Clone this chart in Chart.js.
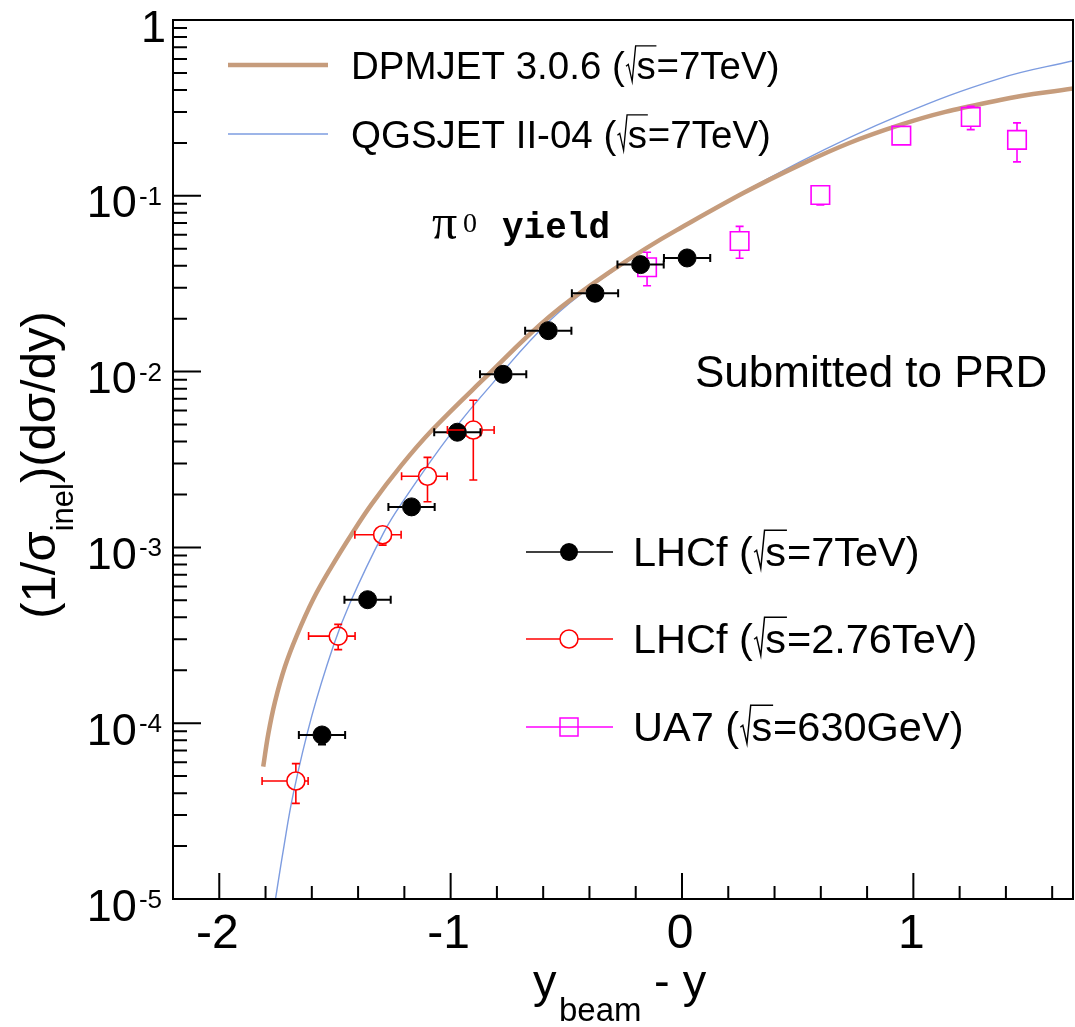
<!DOCTYPE html>
<html>
<head>
<meta charset="utf-8">
<script src="https://cdn.jsdelivr.net/npm/chart.js@4.4.1/dist/chart.umd.min.js"></script>
<style>
  html, body { margin: 0; padding: 0; background: #ffffff; }
  canvas { display: block; }
</style>
</head>
<body>
<canvas id="c" width="1075" height="1027"></canvas>
<script>
// ---- LHCf sqrt(s)=7 TeV (filled circles) ----
const lhcf7X      = [-1.556, -1.359, -1.169, -0.971, -0.773, -0.578, -0.376, -0.179, 0.022];
const lhcf7Y      = [8.57e-5, 5.04e-4, 1.70e-3, 4.52e-3, 9.65e-3, 1.71e-2, 2.79e-2, 4.06e-2, 4.43e-2];
const lhcf7XErrLo = [0.10, 0.10, 0.10, 0.10, 0.10, 0.10, 0.10, 0.10, 0.10];
const lhcf7XErrHi = [0.10, 0.10, 0.10, 0.10, 0.10, 0.10, 0.10, 0.10, 0.10];
const lhcf7YErrLo = [1.0e-5, 3.0e-5, 1.0e-4, 2.7e-4, 5.8e-4, 1.0e-3, 1.7e-3, 2.4e-3, 2.7e-3];
const lhcf7YErrHi = [0.9e-5, 3.0e-5, 1.0e-4, 2.7e-4, 5.8e-4, 1.0e-3, 1.7e-3, 2.4e-3, 2.7e-3];

// ---- LHCf sqrt(s)=2.76 TeV (open circles) ----
const lhcf276X      = [-1.669, -1.486, -1.294, -1.100, -0.902];
const lhcf276Y      = [4.69e-5, 3.13e-4, 1.18e-3, 2.54e-3, 4.65e-3];
const lhcf276XErrLo = [0.146, 0.128, 0.120, 0.112, 0.112];
const lhcf276XErrHi = [0.053, 0.073, 0.080, 0.085, 0.090];
const lhcf276YErrLo = [1.19e-5, 0.51e-4, 1.5e-4, 0.72e-3, 2.23e-3];
const lhcf276YErrHi = [1.20e-5, 0.52e-4, 1.4e-4, 0.71e-3, 2.22e-3];

// ---- UA7 sqrt(s)=630 GeV (open squares) ----
const ua7X      = [-0.151, 0.249, 0.598, 0.948, 1.248, 1.448];
const ua7Y      = [3.92e-2, 5.53e-2, 0.101, 0.220, 0.281, 0.208];
const ua7YErrLo = [0.84e-2, 1.12e-2, 0.0124, 0.015, 0.043, 0.052];
const ua7YErrHi = [0.85e-2, 1.17e-2, 0.010, 0.015, 0.042, 0.052];

// ---- model predictions ----
const dpmjetX = [-1.810, -1.788, -1.759, -1.716, -1.666, -1.594, -1.514, -1.428, -1.342, -1.214, -1.082, -0.859, -0.571, -0.297, -0.023, 0.510, 0.943, 1.375, 1.692];
const dpmjetY = [5.66e-5, 8.71e-5, 1.327e-4, 2.10e-4, 3.13e-4, 5.07e-4, 7.80e-4, 1.189e-3, 1.758e-3, 2.917e-3, 4.62e-3, 9.02e-3, 2.065e-2, 3.80e-2, 6.38e-2, 0.150, 0.253, 0.351, 0.408];
const qgsjetX = [-1.757, -1.723, -1.680, -1.600, -1.507, -1.435, -1.291, -1.212, -1.003, -0.801, -0.571, -0.376, -0.023, 0.510, 0.943, 1.375, 1.692];
const qgsjetY = [1.0e-5, 1.905e-5, 3.98e-5, 1.10e-4, 2.75e-4, 4.83e-4, 1.202e-3, 1.778e-3, 4.37e-3, 9.12e-3, 1.95e-2, 3.16e-2, 6.38e-2, 0.156, 0.288, 0.466, 0.587];

// ---- axes ----
const xTickValues = [-2, -1, 0, 1];
const xTickLabels = ['-2', '-1', '0', '1'];
const xMinorStep = 0.2;
const yTickValues = [1e-5, 1e-4, 1e-3, 1e-2, 1e-1, 1];
const yTickExps   = ['-5', '-4', '-3', '-2', '-1', ''];

const COL_DPM = '#c69c7c';
const COL_QGS = '#7d9ce0';
const COL_RED = '#ff0000';
const COL_MAG = '#ff00ff';

const SANS = '"Liberation Sans", Arial, Helvetica, sans-serif';
const SERIF = '"Liberation Serif", "Times New Roman", serif';
const MONO = '"Liberation Mono", "Courier New", monospace';

function pts(xs, ys) { return xs.map((x, i) => ({ x: x, y: ys[i] })); }

// ROOT-like error bars: segments start at the marker edge, with end caps
function drawErrors(chart, xs, ys, exLo, exHi, eyLo, eyHi, color, lw, gap, cap) {
  const ctx = chart.ctx, sx = chart.scales.x, sy = chart.scales.y, a = chart.chartArea;
  ctx.save();
  ctx.beginPath();
  ctx.rect(a.left, a.top, a.right - a.left, a.bottom - a.top);
  ctx.clip();
  ctx.strokeStyle = color;
  ctx.lineWidth = lw;
  ctx.lineCap = 'butt';
  for (let i = 0; i < xs.length; i++) {
    const px = sx.getPixelForValue(xs[i]);
    const py = sy.getPixelForValue(ys[i]);
    const ends = [];
    if (exLo) ends.push(['h', sx.getPixelForValue(xs[i] - exLo[i]) - px]);
    if (exHi) ends.push(['h', sx.getPixelForValue(xs[i] + exHi[i]) - px]);
    if (eyLo) ends.push(['v', sy.getPixelForValue(ys[i] - eyLo[i]) - py]);
    if (eyHi) ends.push(['v', sy.getPixelForValue(ys[i] + eyHi[i]) - py]);
    for (const [dir, d] of ends) {
      const s = Math.sign(d), dist = Math.abs(d);
      if (dist <= gap) continue;
      ctx.beginPath();
      if (dir === 'h') {
        ctx.moveTo(px + s * gap, py); ctx.lineTo(px + d, py);
        ctx.moveTo(px + d, py - cap); ctx.lineTo(px + d, py + cap);
      } else {
        ctx.moveTo(px, py + s * gap); ctx.lineTo(px, py + d);
        ctx.moveTo(px - cap, py + d); ctx.lineTo(px + cap, py + d);
      }
      ctx.stroke();
    }
  }
  ctx.restore();
}

const errorBarPlugin = {
  id: 'errorBars',
  afterDatasetsDraw(chart) {
    drawErrors(chart, lhcf7X, lhcf7Y, lhcf7XErrLo, lhcf7XErrHi, lhcf7YErrLo, lhcf7YErrHi, '#000000', 2, 9, 4);
    drawErrors(chart, lhcf276X, lhcf276Y, lhcf276XErrLo, lhcf276XErrHi, lhcf276YErrLo, lhcf276YErrHi, COL_RED, 1.6, 9, 4);
    drawErrors(chart, ua7X, ua7Y, null, null, ua7YErrLo, ua7YErrHi, COL_MAG, 1.6, 9.3, 4);
  }
};

// text with an optional sqrt(s) piece
function drawRich(ctx, x, y, parts) {
  let cx = x;
  for (const p of parts) {
    const size = p.size;
    ctx.font = (p.weight ? p.weight + ' ' : '') + size + 'px ' + (p.family || SANS);
    if (p.sqrt) {
      const sw = ctx.measureText('s').width;
      ctx.save();
      ctx.lineWidth = Math.max(1.2, size * 0.035);
      ctx.strokeStyle = ctx.fillStyle;
      ctx.lineJoin = 'miter';
      ctx.beginPath();
      ctx.moveTo(cx + 0.03 * size, y - 0.33 * size);
      ctx.lineTo(cx + 0.09 * size, y - 0.38 * size);
      ctx.lineTo(cx + 0.19 * size, y + 0.06 * size);
      ctx.lineTo(cx + 0.28 * size, y - 0.86 * size);
      ctx.lineTo(cx + 0.30 * size + sw + 0.02 * size, y - 0.86 * size);
      ctx.stroke();
      ctx.restore();
      ctx.fillText('s', cx + 0.30 * size, y);
      cx += 0.30 * size + sw + 0.02 * size;
    } else {
      ctx.fillText(p.text, cx, y + (p.dy || 0));
      cx += ctx.measureText(p.text).width;
    }
  }
  return cx;
}

const decorPlugin = {
  id: 'decor',
  afterDraw(chart) {
    const ctx = chart.ctx, sx = chart.scales.x, sy = chart.scales.y, a = chart.chartArea;
    ctx.save();
    ctx.strokeStyle = '#000000';
    ctx.fillStyle = '#000000';

    // frame
    ctx.lineWidth = 2;
    ctx.strokeRect(a.left, a.top, a.right - a.left, a.bottom - a.top);

    // y ticks (inside, log decades + minors)
    ctx.lineWidth = 2;
    ctx.beginPath();
    for (let e = -5; e <= 0; e++) {
      for (let m = 1; m <= 9; m++) {
        const v = m * Math.pow(10, e);
        if (v > 1.0000001) break;
        const py = sy.getPixelForValue(v);
        const len = m === 1 ? 28 : 14;
        ctx.moveTo(a.left, py); ctx.lineTo(a.left + len, py);
      }
    }
    // x ticks (inside)
    for (let k = -11; k <= 8; k++) {
      const v = k * xMinorStep;
      if (v < sx.min - 1e-9 || v > sx.max + 1e-9) continue;
      const px = sx.getPixelForValue(v);
      const major = Math.abs(v - Math.round(v)) < 1e-6;
      const len = major ? 26 : 13;
      ctx.moveTo(px, a.bottom); ctx.lineTo(px, a.bottom - len);
    }
    ctx.stroke();

    // y tick labels: 10^n
    ctx.textBaseline = 'alphabetic';
    for (let i = 0; i < yTickValues.length; i++) {
      const py = sy.getPixelForValue(yTickValues[i]);
      const right = 162;
      if (yTickExps[i] === '') {
        ctx.font = '45px ' + SANS;
        ctx.textAlign = 'right';
        ctx.fillText('1', right + 4, py + 21.6);
        continue;
      }
      ctx.font = '26px ' + SANS;
      const ew = ctx.measureText(yTickExps[i]).width;
      ctx.font = '45px ' + SANS;
      const bw = ctx.measureText('10').width;
      ctx.textAlign = 'left';
      const x0 = right - ew - bw - 2;
      ctx.fillText('10', x0, py + 21.6);
      ctx.font = '26px ' + SANS;
      ctx.fillText(yTickExps[i], x0 + bw + 2, py - 10.6 + 19.5);
    }

    // x tick labels
    ctx.font = '48px ' + SANS;
    ctx.textAlign = 'center';
    for (let i = 0; i < xTickValues.length; i++) {
      const px = sx.getPixelForValue(xTickValues[i]);
      ctx.fillText(xTickLabels[i], px - 2, 948);
    }

    // x title: y_beam - y
    ctx.textAlign = 'left';
    ctx.font = '47px ' + SANS;
    ctx.fillText('y', 533, 997);
    ctx.font = '33px ' + SANS;
    ctx.fillText('beam', 559, 1021);
    ctx.font = '47px ' + SANS;
    ctx.fillText('- y', 654, 997);

    // y title: (1/sigma_inel)(dsigma/dy), rotated
    ctx.save();
    ctx.translate(55, 465);
    ctx.rotate(-Math.PI / 2);
    const tParts = [
      { text: '(1/\u03c3', size: 49 },
      { text: 'inel', size: 31, dy: 18 },
      { text: ')(d\u03c3/dy)', size: 49 }
    ];
    let tw = 0;
    for (const p of tParts) { ctx.font = p.size + 'px ' + SANS; tw += ctx.measureText(p.text).width; }
    drawRich(ctx, -tw / 2, 0, tParts);
    ctx.restore();

    // pi0 yield
    ctx.font = '50px ' + SERIF;
    ctx.fillText('\u03c0', 432, 239);
    ctx.font = '28px ' + SERIF;
    ctx.fillText('0', 463, 232);
    ctx.font = 'bold 36px ' + MONO;
    ctx.fillText('yield', 502, 238);

    // Submitted to PRD
    ctx.font = '44px ' + SANS;
    ctx.fillText('Submitted to PRD', 695, 387);

    // model legend
    ctx.lineCap = 'butt';
    ctx.strokeStyle = COL_DPM; ctx.lineWidth = 4.5;
    ctx.beginPath(); ctx.moveTo(228, 65); ctx.lineTo(328, 65); ctx.stroke();
    ctx.strokeStyle = COL_QGS; ctx.lineWidth = 1.5;
    ctx.beginPath(); ctx.moveTo(228, 134); ctx.lineTo(328, 134); ctx.stroke();
    ctx.fillStyle = '#000000';
    drawRich(ctx, 351, 79, [{ text: 'DPMJET 3.0.6 (', size: 38.5 }, { sqrt: true, size: 38.5 }, { text: '=7TeV)', size: 38.5 }]);
    drawRich(ctx, 351, 148, [{ text: 'QGSJET II-04 (', size: 38.5 }, { sqrt: true, size: 38.5 }, { text: '=7TeV)', size: 38.5 }]);

    // data legend
    const lx0 = 526, lx1 = 613, mx = 569;
    const rows = [
      { y: 552, color: '#000000', kind: 'fill', label: 'LHCf (', tail: '=7TeV)' },
      { y: 639, color: COL_RED, kind: 'open', label: 'LHCf (', tail: '=2.76TeV)' },
      { y: 727, color: COL_MAG, kind: 'square', label: 'UA7 (', tail: '=630GeV)' }
    ];
    for (const r of rows) {
      ctx.strokeStyle = r.color; ctx.fillStyle = r.color;
      ctx.lineWidth = 1.5;
      ctx.beginPath(); ctx.moveTo(lx0, r.y); ctx.lineTo(lx1, r.y); ctx.stroke();
      if (r.kind === 'fill') {
        ctx.beginPath(); ctx.arc(mx, r.y, 9, 0, Math.PI * 2); ctx.fill();
      } else if (r.kind === 'open') {
        ctx.fillStyle = '#ffffff';
        ctx.beginPath(); ctx.arc(mx, r.y, 9, 0, Math.PI * 2); ctx.fill(); ctx.stroke();
      } else {
        ctx.strokeRect(mx - 9, r.y - 9, 18, 18);
      }
      ctx.fillStyle = '#000000'; ctx.strokeStyle = '#000000';
      drawRich(ctx, 633, r.y + 14, [{ text: r.label, size: 41.5 }, { sqrt: true, size: 41.5 }, { text: r.tail, size: 41.5 }]);
    }
    ctx.restore();
  }
};

function fixX(s) { s.height = 128; s.paddingLeft = 0; s.paddingRight = 0; s.paddingTop = 0; s.paddingBottom = 0; }
function fixY(s) { s.width = 173; s.paddingLeft = 0; s.paddingRight = 0; s.paddingTop = 0; s.paddingBottom = 0; }

const chart = new Chart(document.getElementById('c').getContext('2d'), {
  type: 'scatter',
  data: {
    datasets: [
      {
        label: 'LHCf (\u221as=7TeV)', data: pts(lhcf7X, lhcf7Y), order: 0,
        pointStyle: 'circle', pointRadius: 9, pointHoverRadius: 9,
        backgroundColor: '#000000', borderColor: '#000000', borderWidth: 1, showLine: false
      },
      {
        label: 'LHCf (\u221as=2.76TeV)', data: pts(lhcf276X, lhcf276Y), order: 1,
        pointStyle: 'circle', pointRadius: 9, pointHoverRadius: 9,
        backgroundColor: 'rgba(0,0,0,0)', borderColor: COL_RED, borderWidth: 1.6, showLine: false
      },
      {
        label: 'UA7 (\u221as=630GeV)', data: pts(ua7X, ua7Y), order: 2,
        pointStyle: 'rect', pointRadius: 13.1, pointHoverRadius: 13.1,
        backgroundColor: 'rgba(0,0,0,0)', borderColor: COL_MAG, borderWidth: 1.6, showLine: false
      },
      {
        label: 'DPMJET 3.0.6 (\u221as=7TeV)', data: pts(dpmjetX, dpmjetY), order: 10,
        showLine: true, pointRadius: 0, borderColor: COL_DPM, borderWidth: 4.5,
        tension: 0.4, fill: false
      },
      {
        label: 'QGSJET II-04 (\u221as=7TeV)', data: pts(qgsjetX, qgsjetY), order: 11,
        showLine: true, pointRadius: 0, borderColor: COL_QGS, borderWidth: 1.4,
        tension: 0.4, fill: false
      }
    ]
  },
  options: {
    responsive: false,
    animation: false,
    devicePixelRatio: 1,
    events: [],
    layout: { autoPadding: false, padding: { left: 0, top: 20, right: 2, bottom: 0 } },
    plugins: { legend: { display: false }, tooltip: { enabled: false } },
    scales: {
      x: {
        type: 'linear', min: -2.2, max: 1.69,
        ticks: { display: false }, grid: { display: false }, border: { display: false },
        afterFit: fixX
      },
      y: {
        type: 'logarithmic', min: 1e-5, max: 1,
        ticks: { display: false }, grid: { display: false }, border: { display: false },
        afterFit: fixY
      }
    }
  },
  plugins: [errorBarPlugin, decorPlugin]
});
</script>
</body>
</html>
